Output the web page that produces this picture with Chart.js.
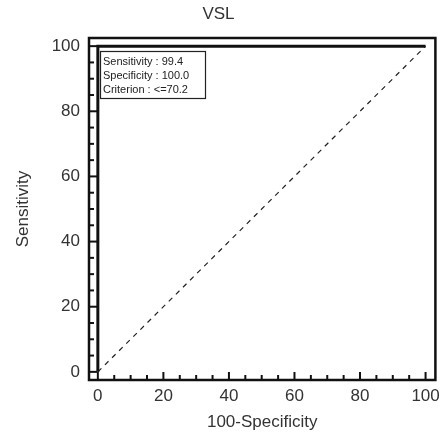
<!DOCTYPE html>
<html>
<head>
<meta charset="utf-8">
<script src="https://cdn.jsdelivr.net/npm/chart.js@4/dist/chart.umd.min.js"></script>
<style>
  body { margin: 0; background: #fff; }
  canvas { display: block; }
</style>
</head>
<body>
<canvas id="rocChart" width="446" height="439"></canvas>
<script>
// ROC curve points (x = 100-Specificity, y = Sensitivity)
const rocX = [0, 0, 0, 100];
const rocY = [0, 99.4, 100, 100];

// reference (chance) line
const diagX = [0, 100];
const diagY = [0, 100];

// tick labels
const xTicks = [0, 20, 40, 60, 80, 100];
const yTicks = [0, 20, 40, 60, 80, 100];
const minorStep = 5;

// criterion box values
const sensitivity = 99.4;
const specificity = 100.0;
const criterion = '<=70.2';

const textColor = '#333';
const fontFamily = '"Liberation Sans", Arial, sans-serif';

// frame around plot + inward ticks on bottom and left
const framePlugin = {
    id: 'frame',
    afterDatasetsDraw(chart) {
        const { ctx, chartArea: a, scales } = chart;
        ctx.save();
        ctx.strokeStyle = '#111';
        ctx.lineWidth = 2.5;
        ctx.strokeRect(a.left, a.top, a.right - a.left, a.bottom - a.top);

        ctx.lineWidth = 2;
        for (let v = 0; v <= 100; v += minorStep) {
            const len = v % 20 === 0 ? 8 : 5;
            const px = scales.x.getPixelForValue(v);
            ctx.beginPath();
            ctx.moveTo(px, a.bottom);
            ctx.lineTo(px, a.bottom - len);
            ctx.stroke();
            const py = scales.y.getPixelForValue(v);
            ctx.beginPath();
            ctx.moveTo(a.left, py);
            ctx.lineTo(a.left + len, py);
            ctx.stroke();
        }

        // criterion box
        const bx = a.left + 11, by = a.top + 13, bw = 105, bh = 47;
        ctx.fillStyle = '#fff';
        ctx.fillRect(bx, by, bw, bh);
        ctx.lineWidth = 1.2;
        ctx.strokeStyle = '#222';
        ctx.strokeRect(bx + 0.5, by + 0.5, bw, bh);
        ctx.fillStyle = '#222';
        ctx.font = '11px ' + fontFamily;
        ctx.textBaseline = 'middle';
        ctx.fillText('Sensitivity : ' + sensitivity.toFixed(1), bx + 3, by + 11);
        ctx.fillText('Specificity : ' + specificity.toFixed(1), bx + 3, by + 25);
        ctx.fillText('Criterion : ' + criterion, bx + 3, by + 39);
        ctx.restore();
    }
};

new Chart(document.getElementById('rocChart'), {
    type: 'scatter',
    data: {
        datasets: [
            {
                data: rocX.map((x, i) => ({ x: x, y: rocY[i] })),
                showLine: true,
                borderColor: '#111',
                borderWidth: 3,
                pointRadius: 0,
                tension: 0
            },
            {
                data: diagX.map((x, i) => ({ x: x, y: diagY[i] })),
                showLine: true,
                borderColor: '#222',
                borderWidth: 1.2,
                borderDash: [5, 5],
                pointRadius: 0
            }
        ]
    },
    options: {
        responsive: false,
        animation: false,
        layout: { padding: { left: 0, right: 9, top: 0, bottom: 0 } },
        plugins: {
            legend: { display: false },
            tooltip: { enabled: false },
            title: {
                display: true,
                text: 'VSL',
                color: textColor,
                font: { family: fontFamily, size: 17, weight: 'normal' },
                padding: { top: 4, bottom: 13.6 }
            }
        },
        scales: {
            x: {
                type: 'linear',
                min: -2.7,
                max: 103,
                afterBuildTicks: scale => { scale.ticks = xTicks.map(v => ({ value: v })); },
                afterFit: scale => { scale.height = 59; },
                grid: { display: false, drawTicks: false },
                border: { display: false },
                ticks: { color: textColor, font: { family: fontFamily, size: 17 }, padding: 6 },
                title: {
                    display: true,
                    text: '100-Specificity',
                    color: textColor,
                    font: { family: fontFamily, size: 17 },
                    padding: { top: 0, bottom: 6 }
                }
            },
            y: {
                type: 'linear',
                min: -2.5,
                max: 102.5,
                afterBuildTicks: scale => { scale.ticks = yTicks.map(v => ({ value: v })); },
                afterFit: scale => { scale.width = 89; },
                grid: { display: false, drawTicks: false },
                border: { display: false },
                ticks: { color: textColor, font: { family: fontFamily, size: 17 }, padding: 9 },
                title: {
                    display: true,
                    text: 'Sensitivity',
                    color: textColor,
                    font: { family: fontFamily, size: 17 },
                    padding: { top: 13, bottom: 0 }
                }
            }
        }
    },
    plugins: [framePlugin]
});
</script>
</body>
</html>
